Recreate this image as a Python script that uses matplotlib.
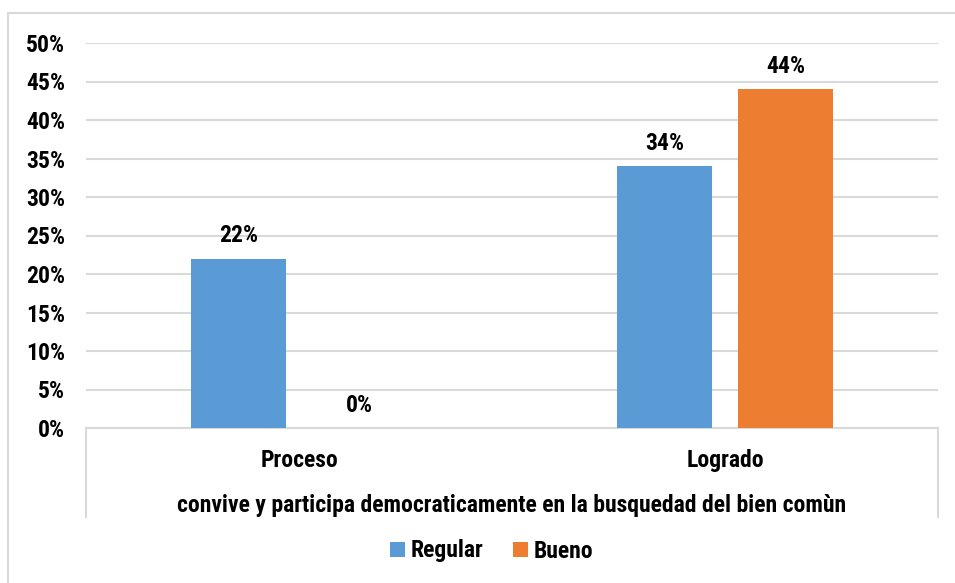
import matplotlib
matplotlib.use("Agg")
import matplotlib.pyplot as plt
from matplotlib import font_manager
from matplotlib.patches import Rectangle

# data
categories = ["Proceso", "Logrado"]
series_names = ["Regular", "Bueno"]
regular = [0.22, 0.34]
bueno = [0.00, 0.44]
colors = ["#5B9BD5", "#ED7D31"]
xlabel = "convive y participa democraticamente en la busquedad del bien comùn"
yticks = [0, 0.05, 0.10, 0.15, 0.20, 0.25, 0.30, 0.35, 0.40, 0.45, 0.50]

names = {f.name for f in font_manager.fontManager.ttflist}
candidates = ["Liberation Sans Narrow", "Roboto Condensed", "DejaVu Sans Condensed",
              "Liberation Sans"]
family = next(c for c in candidates if c in names)
plt.rcParams["font.family"] = family
plt.rcParams["font.weight"] = "bold"
fs = 17

fig = plt.figure(figsize=(9.55, 5.83), dpi=100)
ax = fig.add_axes([86 / 955, 155 / 583, 852 / 955, 385 / 583])

# outer chart border (cropped at right/bottom)
fig.patches.append(Rectangle((8 / 955, -0.05), 1.2, (583 - 13) / 583 + 0.05,
                             transform=fig.transFigure, fill=False,
                             edgecolor="#d9d9d9", linewidth=1.5))

x = range(len(categories))
w = 0.223
off = 0.142
for vals, name, col, d in [(regular, series_names[0], colors[0], -off),
                           (bueno, series_names[1], colors[1], off)]:
    xs = [i + d for i in x]
    ax.bar(xs, vals, width=w, color=col, label=name, zorder=3)
    for xi, v in zip(xs, vals):
        ax.annotate(f"{v*100:.0f}%", (xi, v), xytext=(0, 8), textcoords="offset points",
                    ha="center", va="bottom", fontsize=fs, fontweight="bold")

ax.set_xlim(-0.5, 1.5)
ax.set_ylim(0, 0.5)
ax.set_yticks(yticks)
ax.set_yticklabels([f"{t*100:.0f}%" for t in yticks], fontsize=fs, fontweight="bold")
ax.tick_params(axis="y", length=0, pad=15)
ax.set_xticks(list(x))
ax.set_xticklabels(categories, fontsize=fs, fontweight="bold")
ax.tick_params(axis="x", length=0, pad=15)
ax.set_xlabel(xlabel, fontsize=fs, fontweight="bold", labelpad=16)
ax.grid(axis="y", color="#d9d9d9", linewidth=1.5, zorder=0)
for s in ["top", "right", "left"]:
    ax.spines[s].set_visible(False)
ax.spines["bottom"].set_color("#d9d9d9")
ax.spines["bottom"].set_linewidth(1.5)

# category box side lines
for xa in [0, 1]:
    ax.plot([xa, xa], [0, -0.231], transform=ax.transAxes, color="#d9d9d9",
            linewidth=1.5, clip_on=False)

leg = fig.legend(loc="center", bbox_to_anchor=(0.515, (583 - 551) / 583), ncol=2,
                 frameon=False, fontsize=fs, handlelength=0.62, handleheight=0.62,
                 handletextpad=0.25, columnspacing=1.25)

fig.savefig("out.png", dpi=100)
